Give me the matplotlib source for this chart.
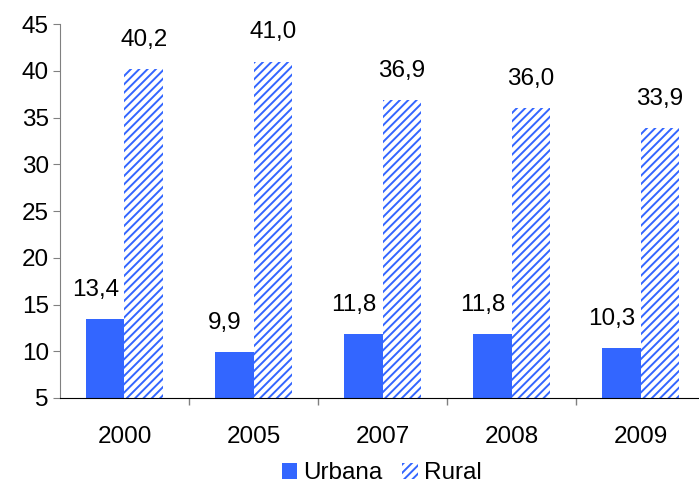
import matplotlib
matplotlib.use("Agg")
import matplotlib.pyplot as plt
import numpy as np

years = ["2000", "2005", "2007", "2008", "2009"]
urbana = [13.4, 9.9, 11.8, 11.8, 10.3]
rural = [40.2, 41.0, 36.9, 36.0, 33.9]

plt.rcParams['font.family'] = ['Liberation Sans', 'DejaVu Sans']
plt.rcParams['hatch.linewidth'] = 1.4

blue = '#3366FF'
fig = plt.figure(figsize=(6.99, 4.83), dpi=100)
ax = fig.add_axes([0.0858, 0.176, 0.923, 0.774])

x = np.arange(len(years))
w = 0.3
ax.bar(x - w/2, urbana, w, color=blue, label='Urbana', zorder=2)
ax.bar(x + w/2, rural, w, color='white', edgecolor=blue, linewidth=0,
       hatch='////', label='Rural', zorder=2)

def fmt(v):
    return f"{v:.1f}".replace('.', ',')

fs = 17.5
for xi, v in zip(x, urbana):
    ax.annotate(fmt(v), (xi - w/2, v), xytext=(-7, 13), textcoords='offset points',
                ha='center', va='bottom', fontsize=fs)
for xi, v in zip(x, rural):
    ax.annotate(fmt(v), (xi + w/2, v), xytext=(0, 13), textcoords='offset points',
                ha='center', va='bottom', fontsize=fs)

ax.set_ylim(5, 45)
ax.set_yticks(range(5, 46, 5))
ax.set_xlim(-0.5, len(years) - 0.5)
ax.set_xticks(x)
ax.set_xticklabels(years)
ax.set_xticks(np.arange(0.5, len(years) - 0.5, 1), minor=True)
ax.tick_params(axis='x', which='major', length=0, pad=20, labelsize=fs)
ax.tick_params(axis='x', which='minor', length=5, color='#808080', width=1)
ax.tick_params(axis='y', length=5, color='#808080', labelsize=fs, pad=3)
for s in ['top', 'right']:
    ax.spines[s].set_visible(False)
ax.spines['left'].set_color('#808080')
ax.spines['bottom'].set_color('black')

leg = fig.legend(loc='center', bbox_to_anchor=(0.546, 0.02), ncol=2, frameon=False,
                 fontsize=fs, handlelength=0.65, handleheight=0.65, handletextpad=0.25,
                 columnspacing=0.8, borderpad=0)
fig.savefig('out.png', dpi=100)
